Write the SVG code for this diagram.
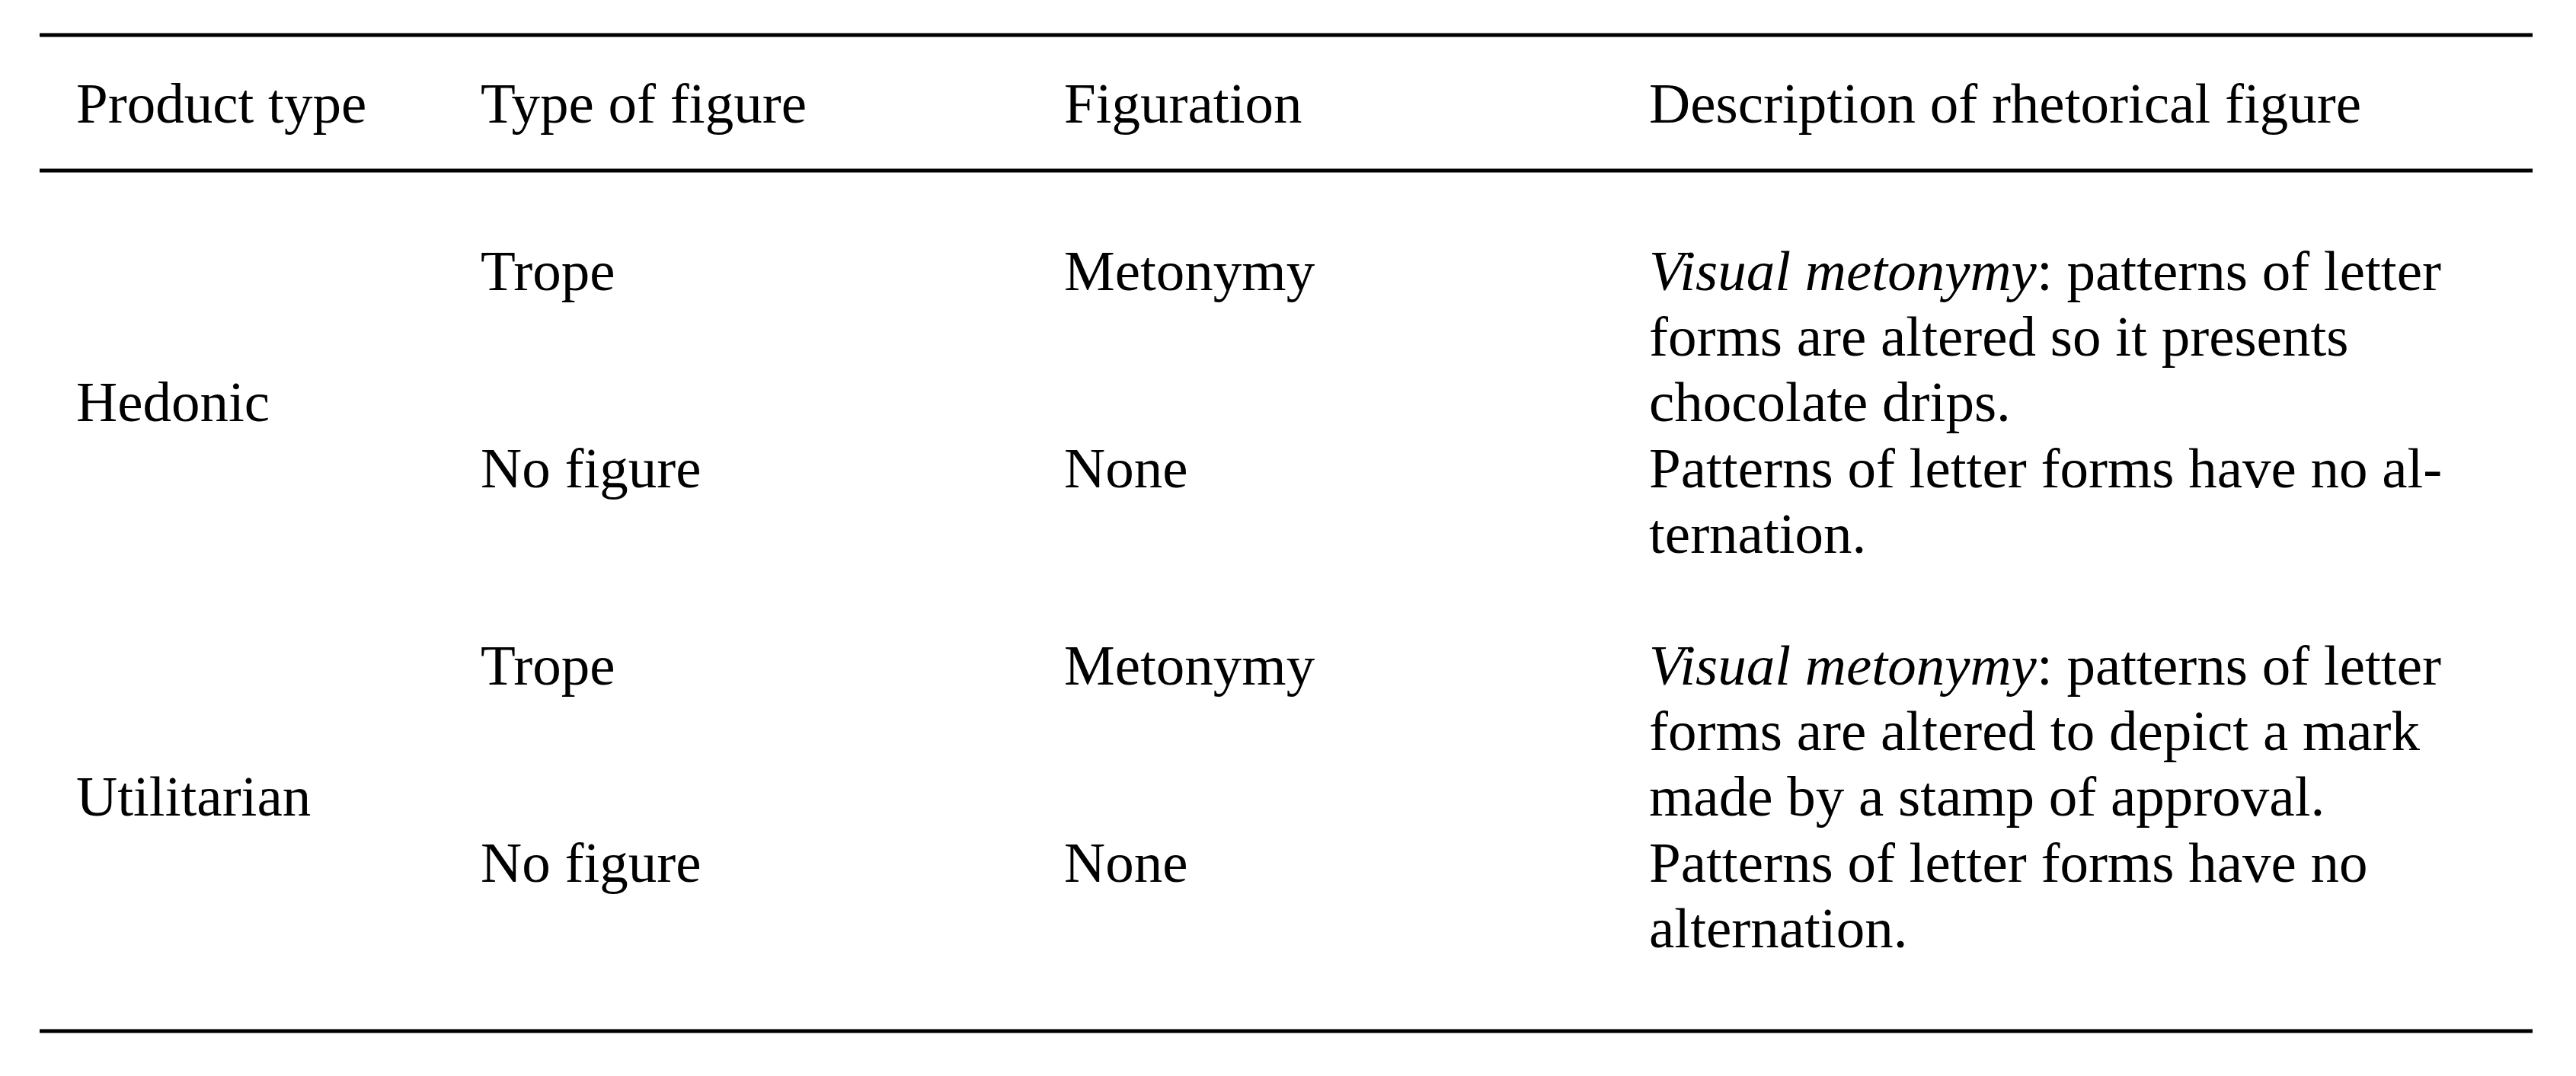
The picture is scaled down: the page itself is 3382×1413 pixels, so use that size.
<svg xmlns="http://www.w3.org/2000/svg" width="3382" height="1413" viewBox="0 0 3382 1413">
<style>
text{font-family:"Liberation Serif","Times New Roman",serif;font-size:75px;fill:#000}
.rule{stroke:#000;stroke-width:5}
.it{font-style:italic}
</style>
<rect width="3382" height="1413" fill="#fff"/>
<g id="rules">
<line class="rule" x1="52" y1="46" x2="3325" y2="46"/>
<line class="rule" x1="52" y1="224" x2="3325" y2="224"/>
<line class="rule" x1="52" y1="1354" x2="3325" y2="1354"/>
</g>
<g id="header">
<text x="100" y="161">Product type</text>
<text x="631" y="161">Type of figure</text>
<text x="1397" y="161">Figuration</text>
<text x="2165" y="161">Description of rhetorical figure</text>
</g>
<g id="hedonic">
<text x="100" y="553">Hedonic</text>
<text x="631" y="381">Trope</text>
<text x="1397" y="381">Metonymy</text>
<text x="2165" y="381"><tspan class="it">Visual metonymy</tspan>: patterns of letter</text>
<text x="2165" y="467">forms are altered so it presents</text>
<text x="2165" y="553">chocolate drips.</text>
<text x="631" y="640">No figure</text>
<text x="1397" y="640">None</text>
<text x="2165" y="640">Patterns of letter forms have no al-</text>
<text x="2165" y="726">ternation.</text>
</g>
<g id="utilitarian">
<text x="100" y="1071">Utilitarian</text>
<text x="631" y="899">Trope</text>
<text x="1397" y="899">Metonymy</text>
<text x="2165" y="899"><tspan class="it">Visual metonymy</tspan>: patterns of letter</text>
<text x="2165" y="985">forms are altered to depict a mark</text>
<text x="2165" y="1071">made by a stamp of approval.</text>
<text x="631" y="1158">No figure</text>
<text x="1397" y="1158">None</text>
<text x="2165" y="1158">Patterns of letter forms have no</text>
<text x="2165" y="1244">alternation.</text>
</g>
<g id="connectors"></g>
</svg>
